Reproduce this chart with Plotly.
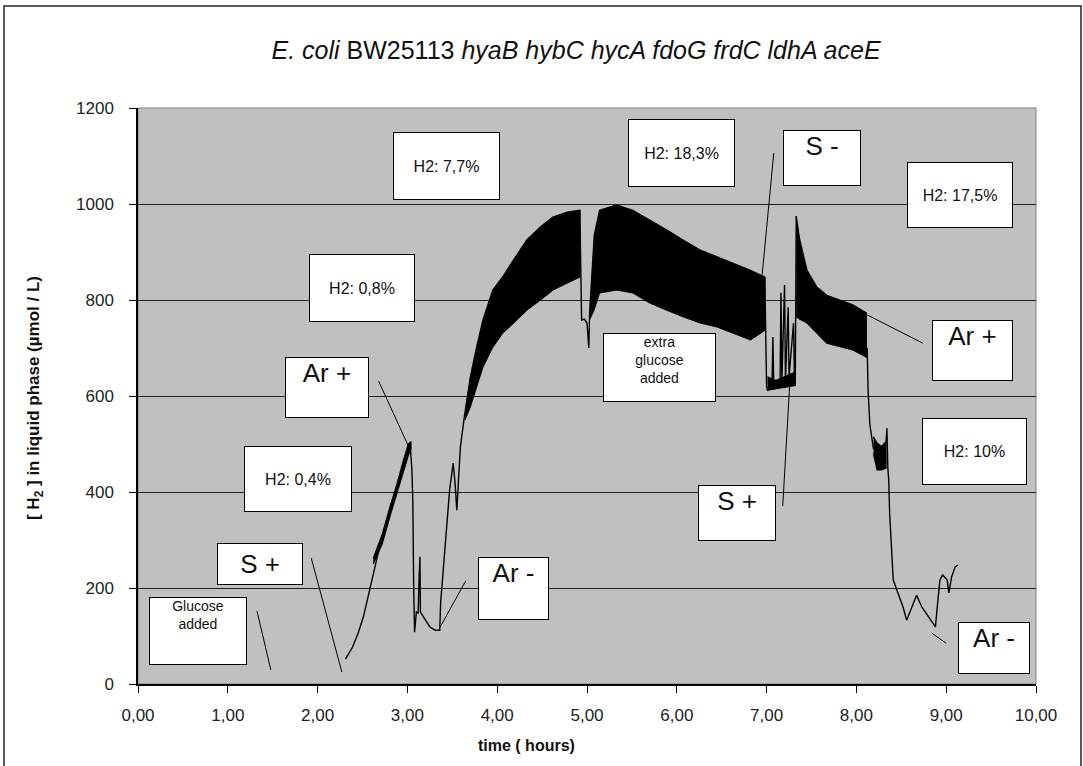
import plotly.graph_objects as go

# ---------------- data ----------------
# thin part of the H2 trace (None separates pieces that are joined by dense bands)
t_main = [2.31, 2.39, 2.45, 2.51, 2.58, 2.64, 2.69, 2.72, 2.81, 2.88, 2.95, 3.00, 3.03, 3.05, 3.06,
          3.07, 3.08, 3.10, 3.12, 3.13, 3.14, 3.145, 3.18, 3.25, 3.31, 3.36, 3.37, 3.40, 3.44, 3.47,
          3.51, 3.53, 3.55, 3.59, 3.64,
          None,
          4.92, 4.94, 4.97, 5.00, 5.02, 5.03,
          None,
          6.98, 7.00, 7.01, 7.06, 7.07, 7.08, 7.15, 7.16, 7.17, 7.20, 7.21, 7.24, 7.25, 7.30, 7.31,
          7.32, 7.33,
          None,
          8.11, 8.12, 8.13, 8.15, 8.19,
          None,
          8.33, 8.34, 8.35, 8.36, 8.37, 8.40, 8.41, 8.45, 8.52, 8.56, 8.62, 8.67, 8.73, 8.79, 8.88,
          8.90, 8.93, 8.96, 9.01, 9.03, 9.06, 9.10, 9.13]
h2_main = [52, 77, 105, 140, 196, 248, 285, 300, 362, 404, 450, 481, 502, 446, 383,
           200, 108, 150, 148, 220, 265, 150, 140, 119, 112, 112, 169, 244, 342, 404,
           460, 420, 362, 494, 565,
           None,
           987, 758, 760, 752, 700, 780,
           None,
           848, 619, 612, 618, 723, 620, 628, 815, 630, 831, 632, 785, 640, 752, 640,
           645, 975,
           None,
           690, 700, 612, 540, 490,
           None,
           505, 533, 450, 425, 356, 252, 217, 196, 160, 133, 160, 185, 160, 144, 119,
           160, 217, 227, 217, 190, 223, 244, 248]

# dense (oscillating) parts of the trace: upper and lower envelopes
band0_t = [2.62, 2.72, 2.81, 2.88, 2.95, 3.01, 3.04]
band0_hi = [262, 312, 372, 414, 462, 500, 505]
band0_lo = [250, 292, 352, 396, 440, 476, 490]

band1_t = [3.64, 3.70, 3.77, 3.84, 3.95, 4.06, 4.18, 4.33, 4.48, 4.62, 4.78, 4.92]
band1_hi = [565, 640, 702, 758, 821, 848, 883, 925, 952, 973, 983, 987]
band1_lo = [550, 577, 619, 660, 702, 731, 752, 779, 800, 821, 835, 848]

band2_t = [5.03, 5.08, 5.14, 5.33, 5.51, 5.70, 5.89, 6.07, 6.26, 6.45, 6.63, 6.82, 6.98]
band2_hi = [780, 935, 987, 998, 987, 967, 946, 925, 904, 890, 877, 862, 848]
band2_lo = [760, 780, 815, 821, 815, 794, 779, 765, 752, 744, 731, 717, 737]

band3_t = [7.01, 7.10, 7.20, 7.32]
band3_hi = [640, 632, 640, 650]
band3_lo = [612, 615, 618, 622]

band4_t = [7.33, 7.37, 7.45, 7.56, 7.67, 7.82, 7.96, 8.11]
band4_hi = [975, 925, 862, 827, 810, 800, 790, 773]
band4_lo = [765, 760, 752, 731, 710, 702, 696, 681]

band5_t = [8.19, 8.23, 8.28, 8.33]
band5_hi = [515, 502, 495, 505]
band5_lo = [480, 446, 446, 450]

x_tick_vals = [0, 1, 2, 3, 4, 5, 6, 7, 8, 9, 10]
x_tick_text = ["0,00", "1,00", "2,00", "3,00", "4,00", "5,00", "6,00", "7,00", "8,00", "9,00", "10,00"]
y_tick_vals = [0, 200, 400, 600, 800, 1000, 1200]

# text boxes: (text, x centre [h], y centre [umol/L], width px, height px, font size, valign)
boxes = [
    ("Glucose<br>added", 0.663, 111, 97, 67, 14, "top"),
    ("S +", 1.353, 251, 85, 41, 26, "middle"),
    ("H2: 0,4%", 1.787, 428, 107, 65, 16, "middle"),
    ("Ar +", 2.110, 617, 83, 60, 26, "top"),
    ("H2: 0,8%", 2.489, 826, 105, 67, 16, "middle"),
    ("H2: 7,7%", 3.430, 1080, 106, 67, 16, "middle"),
    ("H2: 18,3%", 6.047, 1107, 106, 67, 16, "middle"),
    ("S -", 7.622, 1095, 77, 55, 26, "top"),
    ("H2: 17,5%", 9.159, 1018, 105, 65, 16, "middle"),
    ("Ar +", 9.298, 694, 80, 60, 26, "top"),
    ("extra<br>glucose<br>added", 5.802, 660, 112, 68, 14, "top"),
    ("S +", 6.665, 357, 77, 55, 26, "top"),
    ("H2: 10%", 9.310, 485, 104, 66, 16, "middle"),
    ("Ar -", 9.527, 76, 71, 51, 26, "top"),
    ("Ar -", 4.176, 198, 70, 62, 26, "top"),
]

# pointer lines: (x0, y0, x1, y1) in data units
pointers = [
    (1.325, 152, 1.48, 29),
    (1.93, 262, 2.27, 25),
    (2.68, 631, 3.01, 496),
    (3.65, 215, 3.36, 117),
    (7.08, 1106, 6.95, 852),
    (8.12, 769, 8.74, 710),
    (7.18, 371, 7.26, 633),
    (8.84, 106, 9.00, 85),
]

FONT = "Arial, Liberation Sans, sans-serif"

fig = go.Figure()

for bt, bhi, blo in [(band0_t, band0_hi, band0_lo), (band1_t, band1_hi, band1_lo),
                     (band2_t, band2_hi, band2_lo), (band3_t, band3_hi, band3_lo),
                     (band4_t, band4_hi, band4_lo), (band5_t, band5_hi, band5_lo)]:
    fig.add_trace(go.Scatter(
        x=bt + bt[::-1], y=bhi + blo[::-1], mode="lines", fill="toself",
        fillcolor="black", line=dict(color="black", width=1.2),
        hoverinfo="skip", showlegend=False))

fig.add_trace(go.Scatter(x=t_main, y=h2_main, mode="lines",
                         line=dict(color="black", width=1.4),
                         connectgaps=False, showlegend=False))

shapes = []
for x0, y0, x1, y1 in pointers:
    shapes.append(dict(type="line", xref="x", yref="y", x0=x0, y0=y0, x1=x1, y1=y1,
                       line=dict(color="black", width=1)))
# plot-area frame (grey)
shapes.append(dict(type="rect", xref="paper", yref="paper", x0=0, y0=0, x1=1, y1=1,
                   line=dict(color="#808080", width=1), layer="below"))
# outer chart frame
shapes.append(dict(type="rect", xref="paper", yref="paper",
                   x0=-0.1492, y0=-0.15, x1=1.0501, y1=1.1771,
                   line=dict(color="#222", width=1.5)))

annotations = []
for text, x, y, w, h, fs, va in boxes:
    annotations.append(dict(text=text, x=x, y=y, xref="x", yref="y",
                            xanchor="center", yanchor="middle", showarrow=False,
                            width=w - 1, height=h - 1, bgcolor="white",
                            bordercolor="black", borderwidth=1, borderpad=0,
                            valign=va, align="center",
                            font=dict(family=FONT, size=fs, color="#111")))

annotations.append(dict(text="<b>[ H<sub>2</sub> ] in liquid phase (µmol / L)</b>",
                        xref="paper", yref="paper", x=-0.1147, y=0.4965,
                        textangle=-90, showarrow=False, xanchor="center", yanchor="middle",
                        font=dict(family=FONT, size=17, color="#111")))
annotations.append(dict(text="<b>time ( hours)</b>", xref="paper", yref="paper",
                        x=0.433, y=-0.106, showarrow=False, xanchor="center", yanchor="middle",
                        font=dict(family=FONT, size=16, color="#111")))

fig.update_layout(
    width=1083, height=766,
    margin=dict(l=138, r=47, t=108, b=82),
    paper_bgcolor="white", plot_bgcolor="#C0C0C0",
    title=dict(text="<i>E. coli</i> BW25113 <i>hyaB hybC hycA fdoG frdC ldhA aceE</i>",
               x=0.4878, xref="paper", y=1 - 50 / 766, yref="container",
               xanchor="center", yanchor="middle",
               font=dict(family=FONT, size=25, color="#111")),
    shapes=shapes, annotations=annotations,
    xaxis=dict(range=[0, 10], tickvals=x_tick_vals, ticktext=x_tick_text,
               showgrid=False, zeroline=False, showline=True, linecolor="black", linewidth=1.5,
               ticks="outside", ticklen=7, tickcolor="black", ticklabelstandoff=8,
               tickfont=dict(family=FONT, size=17, color="#222")),
    yaxis=dict(range=[0, 1200], tickvals=y_tick_vals,
               showgrid=True, gridcolor="#222", gridwidth=1.2, zeroline=False,
               showline=True, linecolor="black", linewidth=1.5,
               ticks="outside", ticklen=7, tickcolor="black", ticklabelstandoff=12,
               tickfont=dict(family=FONT, size=17, color="#222")),
)

fig.write_html("out.html")
